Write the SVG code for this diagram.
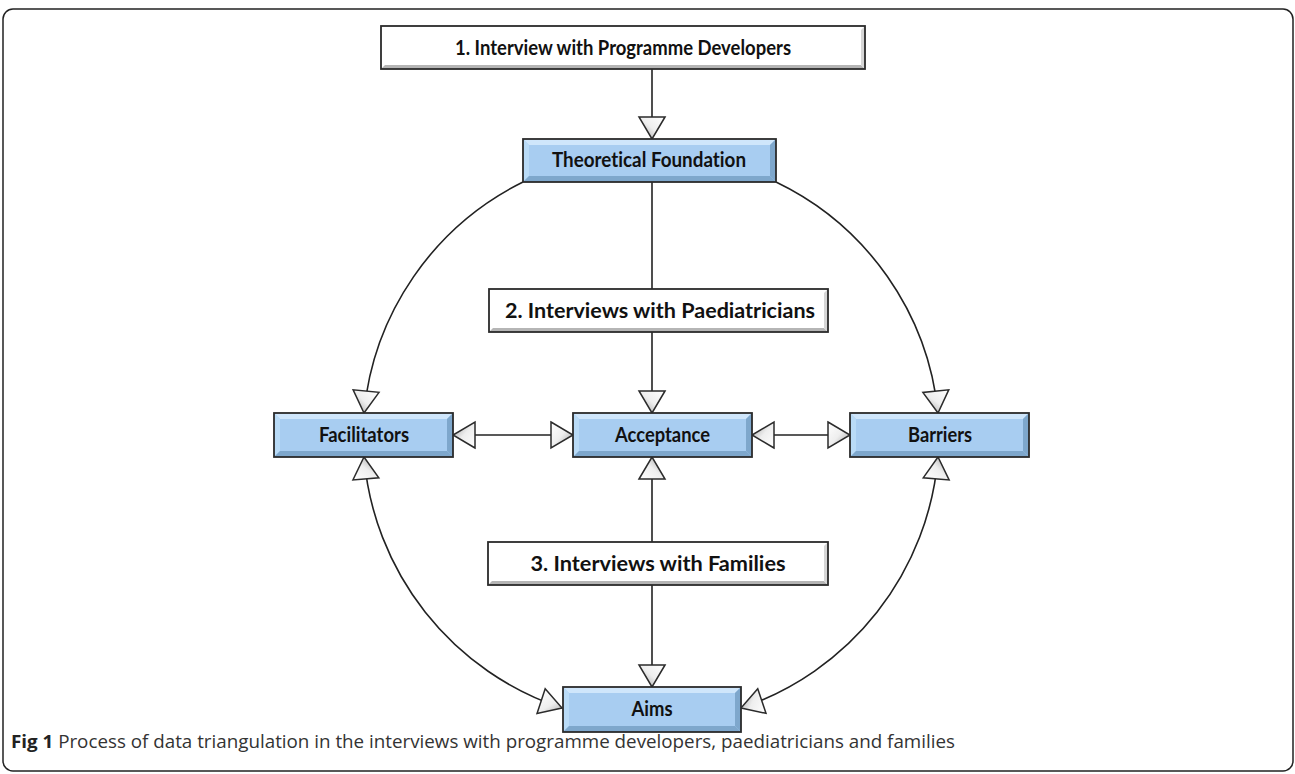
<svg xmlns="http://www.w3.org/2000/svg" width="1295" height="774" viewBox="0 0 1295 774">
<style>
.frame{fill:#fff;stroke:#222;stroke-width:1.5}
.blue{fill:#a8cdf1;stroke:none}
.white{fill:#ffffff;stroke:none}
.border{fill:none;stroke:#2b2b2b;stroke-width:1.8}
.bl-light{fill:#cfe6fb}
.bl-dark{fill:#7ea7cc}
.bl-side{fill:#b9dbf7}
.wh-dark{fill:#b5b5b5}
.wh-side{fill:#d6d6d6}
.lbl{font-family:Lato,"Open Sans","Liberation Sans",sans-serif;font-weight:bold;font-size:21px;fill:#111;text-anchor:middle;font-variant-ligatures:none}
.conn{fill:none;stroke:#222;stroke-width:1.6}
.cap{font-family:"Open Sans","Liberation Sans",sans-serif;font-size:17.5px;fill:#333}
</style>
<defs>
<linearGradient id="ag" x1="0" y1="0" x2="1" y2="1">
<stop offset="0" stop-color="#ffffff"/>
<stop offset="0.5" stop-color="#eeeeee"/>
<stop offset="1" stop-color="#9a9a9a"/>
</linearGradient>
<marker id="arr" markerUnits="userSpaceOnUse" viewBox="0 0 24 28" refX="23" refY="14" markerWidth="24" markerHeight="28" orient="auto-start-reverse" overflow="visible">
<path d="M1,1 L23,14 L1,27 Z" fill="url(#ag)" stroke="#2b2b2b" stroke-width="1.5" stroke-linejoin="miter"/>
</marker>
</defs>
<rect class="frame" x="3" y="9" width="1290" height="762" rx="10"/>

<g id="connectors">
<path class="conn" d="M652,69 L652,139" marker-end="url(#arr)"/>
<path class="conn" d="M652,182 L652,289"/>
<path class="conn" d="M652,332 L652,413" marker-end="url(#arr)"/>
<path class="conn" d="M652,542 L652,457" marker-end="url(#arr)"/>
<path class="conn" d="M652,585 L652,687" marker-end="url(#arr)"/>
<path class="conn" d="M453,435 L573,435" marker-start="url(#arr)" marker-end="url(#arr)"/>
<path class="conn" d="M752,435 L850,435" marker-start="url(#arr)" marker-end="url(#arr)"/>
<path class="conn" d="M523,182 A288,288 0 0 0 364,413" marker-end="url(#arr)"/>
<path class="conn" d="M776,182 A288,288 0 0 1 938,413" marker-end="url(#arr)"/>
<path class="conn" d="M364,457 A290,290 0 0 0 562,708" marker-start="url(#arr)" marker-end="url(#arr)"/>
<path class="conn" d="M938,457 A290,290 0 0 1 741,708" marker-start="url(#arr)" marker-end="url(#arr)"/>
</g>

<g id="n1">
<rect class="white" x="381" y="26" width="484" height="43"/>
<polygon class="wh-dark" points="381,69 865,69 861,65 385,65"/>
<polygon class="wh-side" points="865,26 865,69 861,65 861,30"/>
<rect class="border" x="381" y="26" width="484" height="43"/>
<text class="lbl" x="623" y="55" textLength="336" lengthAdjust="spacingAndGlyphs">1.  Interview with Programme Developers</text>
</g>

<g id="n_theory">
<rect class="blue" x="523" y="139" width="253" height="43"/>
<polygon class="bl-light" points="523,139 776,139 770,145 529,145"/>
<polygon class="bl-side" points="523,139 529,145 529,176 523,182"/>
<polygon class="bl-dark" points="523,182 776,182 770,176 529,176"/>
<polygon class="bl-dark" points="776,139 776,182 770,176 770,145"/>
<rect class="border" x="523" y="139" width="253" height="43"/>
<text class="lbl" x="649" y="167" textLength="194" lengthAdjust="spacingAndGlyphs">Theoretical Foundation</text>
</g>

<g id="n2">
<rect class="white" x="489" y="289" width="339" height="43"/>
<polygon class="wh-dark" points="489,332 828,332 824,328 493,328"/>
<polygon class="wh-side" points="828,289 828,332 824,328 824,293"/>
<rect class="border" x="489" y="289" width="339" height="43"/>
<text class="lbl" x="660" y="318" textLength="310" lengthAdjust="spacingAndGlyphs">2. Interviews with Paediatricians</text>
</g>

<g id="n_fac">
<rect class="blue" x="274" y="413" width="179" height="44"/>
<polygon class="bl-light" points="274,413 453,413 447,419 280,419"/>
<polygon class="bl-side" points="274,413 280,419 280,451 274,457"/>
<polygon class="bl-dark" points="274,457 453,457 447,451 280,451"/>
<polygon class="bl-dark" points="453,413 453,457 447,451 447,419"/>
<rect class="border" x="274" y="413" width="179" height="44"/>
<text class="lbl" x="364" y="442" textLength="90" lengthAdjust="spacingAndGlyphs">Facilitators</text>
</g>

<g id="n_acc">
<rect class="blue" x="573" y="413" width="179" height="44"/>
<polygon class="bl-light" points="573,413 752,413 746,419 579,419"/>
<polygon class="bl-side" points="573,413 579,419 579,451 573,457"/>
<polygon class="bl-dark" points="573,457 752,457 746,451 579,451"/>
<polygon class="bl-dark" points="752,413 752,457 746,451 746,419"/>
<rect class="border" x="573" y="413" width="179" height="44"/>
<text class="lbl" x="662.5" y="442" textLength="95" lengthAdjust="spacingAndGlyphs">Acceptance</text>
</g>

<g id="n_bar">
<rect class="blue" x="850" y="413" width="179" height="44"/>
<polygon class="bl-light" points="850,413 1029,413 1023,419 856,419"/>
<polygon class="bl-side" points="850,413 856,419 856,451 850,457"/>
<polygon class="bl-dark" points="850,457 1029,457 1023,451 856,451"/>
<polygon class="bl-dark" points="1029,413 1029,457 1023,451 1023,419"/>
<rect class="border" x="850" y="413" width="179" height="44"/>
<text class="lbl" x="940" y="442" textLength="64" lengthAdjust="spacingAndGlyphs">Barriers</text>
</g>

<g id="n3">
<rect class="white" x="488" y="542" width="340" height="43"/>
<polygon class="wh-dark" points="488,585 828,585 824,581 492,581"/>
<polygon class="wh-side" points="828,542 828,585 824,581 824,546"/>
<rect class="border" x="488" y="542" width="340" height="43"/>
<text class="lbl" x="658" y="571" textLength="255" lengthAdjust="spacingAndGlyphs">3. Interviews with Families</text>
</g>

<g id="n_aims">
<rect class="blue" x="563" y="687" width="178" height="45"/>
<polygon class="bl-light" points="563,687 741,687 735,693 569,693"/>
<polygon class="bl-side" points="563,687 569,693 569,726 563,732"/>
<polygon class="bl-dark" points="563,732 741,732 735,726 569,726"/>
<polygon class="bl-dark" points="741,687 741,732 735,726 735,693"/>
<rect class="border" x="563" y="687" width="178" height="45"/>
<text class="lbl" x="652" y="716" textLength="41" lengthAdjust="spacingAndGlyphs">Aims</text>
</g>

<text class="cap" x="11" y="748" textLength="944" lengthAdjust="spacingAndGlyphs"><tspan font-weight="bold" fill="#222">Fig 1</tspan> Process of data triangulation in the interviews with programme developers, paediatricians and families</text>
</svg>
